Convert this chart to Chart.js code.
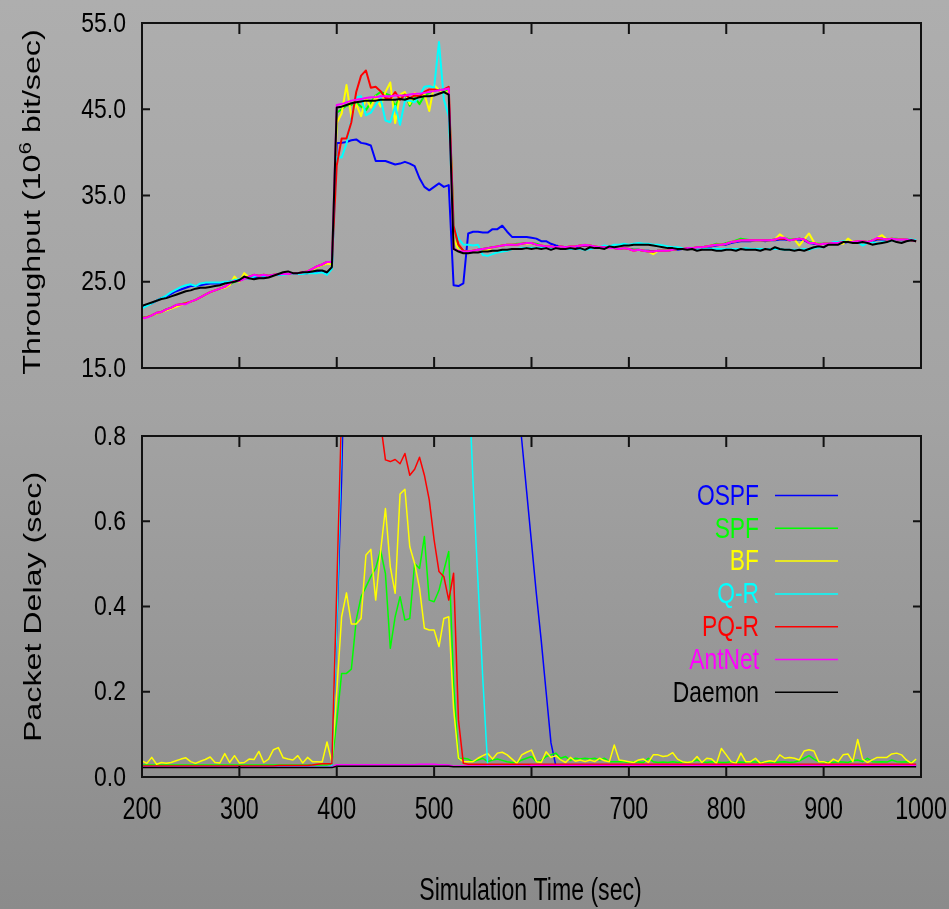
<!DOCTYPE html>
<html><head><meta charset="utf-8">
<script src="https://cdn.jsdelivr.net/npm/chart.js@4.4.1/dist/chart.umd.min.js"></script>
<style>
html,body{margin:0;padding:0;}
body{width:949px;height:909px;position:relative;overflow:hidden;background:linear-gradient(to bottom,#aeaeae 0%,#a3a3a3 45%,#8b8b8b 100%);}
canvas{position:absolute;left:0;}
#c1{top:0;} #c2{top:400px;}
</style></head><body>
<canvas id="c1" width="949" height="400"></canvas>
<canvas id="c2" width="949" height="509"></canvas>
<script>
// ---------------- data ----------------
const times = [
200,205,210,215,220,225,230,235,240,245,250,255,260,265,270,275,280,285,290,295,
300,305,310,315,320,325,330,335,340,345,350,355,360,365,370,375,380,385,390,395,
400,405,410,415,420,425,430,435,440,445,450,455,460,465,470,475,480,485,490,495,
500,505,510,515,520,525,530,535,540,545,550,555,560,565,570,575,580,585,590,595,
600,605,610,615,620,625,630,635,640,645,650,655,660,665,670,675,680,685,690,695,
700,705,710,715,720,725,730,735,740,745,750,755,760,765,770,775,780,785,790,795,
800,805,810,815,820,825,830,835,840,845,850,855,860,865,870,875,880,885,890,895,
900,905,910,915,920,925,930,935,940,945,950,955,960,965,970,975,980,985,990,995];

const seriesNames  = ['OSPF','SPF','BF','Q-R','PQ-R','AntNet','Daemon'];
const seriesColors = ['#0000ff','#00ff00','#ffff00','#00ffff','#ff0000','#ff00ff','#000000'];

const xTickValues     = [200,300,400,500,600,700,800,900,1000];
const xTickLabels     = ['200','300','400','500','600','700','800','900','1000'];
const thrTickValues   = [15,25,35,45,55];
const thrTickLabels   = ['15.0','25.0','35.0','45.0','55.0'];
const delayTickValues = [0,0.2,0.4,0.6,0.8];
const delayTickLabels = ['0.0','0.2','0.4','0.6','0.8'];

// Throughput (10^6 bit/sec)
const thrOSPF = [
22.0,22.3,22.5,22.8,23.1,23.3,23.6,23.9,24.1,24.3,24.5,24.5,24.6,24.7,24.8,24.8,24.8,24.9,25.0,25.1,
25.2,25.4,25.4,25.5,25.6,25.6,25.6,25.8,25.8,25.9,25.9,25.9,25.9,26.0,26.0,26.1,26.1,26.2,26.0,26.6,
41.1,41.1,41.2,41.4,41.5,41.1,41.0,40.8,39.0,39.0,39.0,38.8,38.6,38.7,38.9,38.7,38.4,37.0,36.0,35.6,
36.0,36.4,36.0,36.2,24.6,24.5,24.8,30.6,30.8,30.8,30.7,30.7,31.1,31.1,31.5,30.8,30.2,30.2,30.2,30.2,
30.1,30.0,29.7,29.7,29.4,29.2,29.1,29.0,29.0,29.0,29.1,29.2,29.1,29.0,29.0,28.9,28.9,28.9,28.8,28.9,
28.8,28.7,28.7,28.6,28.6,28.5,28.6,28.6,28.6,28.7,28.7,28.8,28.8,28.9,28.9,29.0,29.1,29.1,29.2,29.3,
29.3,29.5,29.6,29.7,29.7,29.7,29.8,29.8,29.7,29.8,29.8,29.9,29.9,29.8,29.9,29.9,29.8,29.5,29.4,29.3,
29.4,29.4,29.5,29.5,29.5,29.6,29.6,29.6,29.6,29.6,29.7,29.9,29.9,29.9,29.9,29.9,29.8,29.8,29.8,29.7];
const thrSPF = [
20.8,20.9,21.1,21.3,21.5,21.8,22.0,22.2,22.4,22.5,22.7,22.9,23.2,23.5,23.8,24.0,24.2,24.4,24.7,25.0,
25.1,25.4,25.5,25.7,25.7,25.8,25.7,25.8,25.9,25.9,25.9,26.0,26.0,26.1,26.2,26.4,26.7,26.9,27.2,27.2,
44.6,45.0,45.4,45.5,45.8,45.3,44.9,45.8,46.6,47.0,46.8,46.6,45.3,46.5,46.8,45.4,46.4,45.6,46.6,46.9,
47.1,47.3,47.0,47.2,31.5,29.2,28.6,28.5,28.6,28.7,28.8,28.9,29.0,29.1,29.2,29.3,29.3,29.4,29.4,29.5,
29.5,29.4,29.2,29.1,29.1,29.0,29.1,29.0,29.1,29.1,29.2,29.3,29.2,29.1,29.0,29.0,28.9,28.9,28.8,28.9,
28.8,28.7,28.7,28.6,28.5,28.5,28.6,28.6,28.6,28.7,28.8,28.8,28.9,28.9,29.0,29.0,29.1,29.2,29.4,29.3,
29.5,29.6,29.8,30.0,29.9,29.8,29.8,29.8,29.8,29.8,29.9,30.0,30.1,29.9,29.9,30.0,29.9,29.6,29.5,29.4,
29.4,29.4,29.5,29.5,29.6,29.6,29.6,29.7,29.7,29.6,29.8,30.0,30.0,29.9,30.0,30.0,29.9,29.9,29.8,29.7];
const thrBF = [
20.7,20.9,21.1,21.3,21.5,21.7,21.9,22.1,22.3,22.5,22.7,22.9,23.2,23.5,23.8,24.0,24.2,24.3,24.6,25.6,
25.0,26.0,25.5,25.7,25.7,25.8,25.7,25.8,25.9,25.9,25.9,26.0,26.0,26.1,26.2,26.4,26.7,26.9,27.1,27.0,
43.4,44.5,47.8,44.1,45.6,44.2,46.3,45.2,46.5,45.3,47.0,48.1,43.4,46.7,47.0,45.6,46.9,46.5,46.8,44.8,
47.8,47.2,46.8,47.1,30.0,28.7,28.5,28.5,28.6,28.7,28.7,28.6,29.0,29.1,29.2,29.3,29.3,29.3,29.4,29.4,
29.5,29.3,29.2,29.1,29.1,29.0,29.1,29.0,29.1,29.1,29.2,29.3,29.2,29.1,29.0,29.0,28.9,28.9,28.8,28.9,
28.8,28.6,28.7,28.6,28.5,28.2,28.6,28.6,28.6,28.7,28.8,28.8,28.9,28.9,29.0,29.0,29.1,29.2,29.3,29.3,
29.4,29.6,29.7,29.8,29.8,29.8,29.8,29.8,29.8,29.8,29.9,30.5,30.1,29.8,29.9,29.2,29.9,30.6,29.6,29.3,
29.4,29.4,29.5,29.5,29.4,30.0,29.6,29.7,29.7,29.6,29.8,30.1,30.4,29.9,30.0,29.9,29.9,29.9,29.8,29.7];
const thrQR = [
21.9,22.2,22.5,22.8,23.1,23.4,23.8,24.1,24.4,24.6,24.7,24.5,24.8,24.9,24.9,24.9,24.9,25.0,25.0,25.2,
25.3,25.4,25.4,25.6,25.7,25.7,25.7,25.8,25.8,25.8,25.9,25.9,25.9,25.9,26.0,26.0,26.0,26.1,25.8,26.5,
39.5,39.4,41.0,43.8,46.4,46.5,44.3,44.6,45.5,46.3,43.7,43.5,45.4,43.2,46.0,46.0,45.8,46.6,47.6,47.7,
47.5,52.8,46.1,44.2,31.5,30.0,29.3,29.3,29.2,29.3,28.1,28.0,28.2,28.4,28.5,28.6,28.8,28.8,28.9,28.9,
28.9,28.9,29.0,29.0,28.9,29.0,29.0,28.8,28.8,28.8,28.8,28.7,28.8,28.9,29.0,29.2,29.1,29.3,29.3,29.4,
29.3,29.4,29.5,29.4,29.4,29.3,29.3,29.2,29.1,29.0,29.0,28.9,28.8,28.8,28.8,28.8,28.8,28.8,28.8,28.8,
28.8,28.8,28.8,28.8,28.9,28.8,28.8,28.8,28.8,28.8,28.8,28.8,28.7,28.7,28.7,28.7,28.8,28.7,28.9,29.0,
29.0,29.4,29.6,29.6,29.7,29.6,29.6,29.6,29.2,29.5,29.6,29.4,29.6,29.6,29.8,29.9,29.8,29.9,29.9,29.8];
const thrPQR = [
20.8,20.9,21.1,21.4,21.5,21.8,22.0,22.3,22.4,22.5,22.7,22.9,23.2,23.5,23.8,24.0,24.2,24.4,24.8,25.1,
25.1,25.4,25.6,25.8,25.7,25.8,25.7,25.8,25.9,25.9,25.9,26.0,26.0,26.1,26.2,26.5,26.8,27.0,27.3,27.3,
38.5,41.6,41.6,43.5,47.0,48.9,49.5,47.5,47.6,47.1,46.3,46.2,47.0,46.1,46.7,46.3,46.6,46.5,47.0,47.3,
47.3,47.2,47.3,47.6,31.5,29.3,28.6,28.5,28.6,28.7,28.8,28.9,29.0,29.1,29.2,29.3,29.3,29.3,29.4,29.5,
29.5,29.3,29.2,29.1,29.1,29.0,29.1,29.0,29.1,29.1,29.2,29.2,29.2,29.1,29.0,29.0,28.9,28.9,28.8,28.9,
28.8,28.6,28.7,28.6,28.5,28.5,28.6,28.6,28.6,28.7,28.8,28.8,28.9,28.9,29.0,29.0,29.1,29.2,29.3,29.3,
29.4,29.6,29.7,29.8,29.8,29.8,29.8,29.8,29.8,29.8,29.9,30.0,30.0,29.8,29.9,30.0,29.9,29.5,29.5,29.3,
29.4,29.4,29.5,29.5,29.6,29.6,29.6,29.7,29.7,29.6,29.8,30.0,30.0,29.9,30.0,29.9,29.9,29.9,29.8,29.7];
const thrAntNet = [
20.75,20.85,21.1,21.4,21.5,21.8,22.0,22.3,22.4,22.4,22.7,22.9,23.2,23.5,23.8,24.0,24.2,24.4,24.8,25.1,
25.1,25.3,25.6,25.8,25.7,25.8,25.7,25.8,25.9,25.9,25.9,26.0,26.0,26.1,26.2,26.5,26.8,27.0,27.3,27.3,
45.5,45.6,45.8,46.0,46.1,46.2,46.3,46.4,46.4,46.5,46.5,46.5,46.6,46.6,46.6,46.7,46.8,46.8,46.9,47.0,
47.1,47.2,47.3,47.4,28.8,28.6,28.5,28.5,28.6,28.7,28.8,28.9,29.0,29.1,29.2,29.3,29.3,29.3,29.4,29.5,
29.5,29.3,29.2,29.1,29.1,29.0,29.1,29.0,29.1,29.1,29.2,29.3,29.2,29.1,29.0,29.0,28.9,28.9,28.8,28.9,
28.8,28.6,28.7,28.6,28.5,28.5,28.6,28.6,28.6,28.7,28.8,28.8,28.9,28.9,29.0,29.0,29.1,29.2,29.3,29.3,
29.4,29.6,29.7,29.8,29.8,29.8,29.8,29.8,29.8,29.8,29.9,30.1,30.1,29.8,29.9,30.0,29.9,29.5,29.5,29.3,
29.4,29.4,29.5,29.5,29.6,29.6,29.6,29.7,29.7,29.6,29.8,30.1,30.0,29.9,30.0,29.9,29.9,29.9,29.8,29.7];
const thrDaemon = [
22.2,22.4,22.6,22.8,23.0,23.1,23.3,23.5,23.7,23.9,24.0,24.2,24.3,24.3,24.4,24.5,24.6,24.8,24.9,25.0,
25.2,25.6,25.4,25.3,25.4,25.4,25.5,25.7,25.9,26.1,26.2,26.0,26.0,26.1,26.1,26.2,26.3,26.3,26.1,26.7,
45.2,45.3,45.5,45.7,45.8,45.9,46.0,46.0,46.0,46.1,46.1,46.1,46.1,46.2,46.1,46.3,46.2,46.4,46.5,46.5,
46.6,46.8,47.0,46.7,28.8,28.5,28.3,28.3,28.4,28.4,28.5,28.5,28.6,28.6,28.7,28.7,28.8,28.8,28.8,28.9,
28.8,28.9,28.8,28.9,28.7,28.9,28.8,28.8,28.9,28.8,28.9,28.7,29.0,28.9,28.9,28.8,29.1,29.0,29.1,29.2,
29.2,29.3,29.3,29.3,29.3,29.2,29.1,29.0,28.9,28.9,28.8,28.8,28.7,28.8,28.6,28.7,28.7,28.7,28.6,28.6,
28.7,28.7,28.6,28.8,28.7,28.7,28.7,28.6,28.8,28.7,29.0,28.8,28.7,28.7,28.6,28.7,28.6,28.8,29.0,29.1,
29.0,29.3,29.3,29.3,29.6,29.6,29.5,29.5,29.6,29.5,29.3,29.4,29.5,29.6,29.8,29.6,29.5,29.7,29.8,29.7];

// Packet Delay (sec)
const delOSPF = [
0.023,0.023,0.023,0.023,0.023,0.023,0.023,0.023,0.023,0.023,0.023,0.023,0.023,0.023,0.023,0.023,0.023,0.023,0.023,0.023,
0.023,0.023,0.023,0.023,0.023,0.023,0.023,0.023,0.023,0.023,0.023,0.023,0.023,0.023,0.023,0.023,0.023,0.023,0.023,0.025,
0.35,0.70,1.20,1.45,1.60,1.72,1.82,1.90,1.97,2.03,2.08,2.13,2.17,2.21,2.25,2.28,2.31,2.34,2.36,2.38,
2.40,2.42,2.44,2.45,2.46,2.33,2.22,2.10,1.97,1.86,1.73,1.62,1.50,1.37,1.26,1.14,1.02,0.91,0.79,0.67,
0.55,0.43,0.32,0.20,0.08,0.026,0.025,0.025,0.025,0.025,0.025,0.025,0.025,0.025,0.025,0.025,0.025,0.025,0.025,0.025,
0.025,0.025,0.025,0.025,0.025,0.025,0.025,0.025,0.025,0.025,0.025,0.025,0.025,0.025,0.025,0.025,0.025,0.025,0.025,0.025,
0.025,0.025,0.025,0.025,0.025,0.025,0.025,0.025,0.025,0.025,0.025,0.025,0.025,0.025,0.025,0.025,0.025,0.025,0.025,0.025,
0.025,0.025,0.025,0.025,0.025,0.025,0.025,0.025,0.025,0.025,0.025,0.025,0.025,0.025,0.025,0.025,0.025,0.025,0.025,0.025];
const delSPF = [
0.028,0.028,0.028,0.028,0.028,0.028,0.028,0.028,0.028,0.028,0.028,0.028,0.028,0.028,0.028,0.028,0.028,0.028,0.028,0.028,
0.028,0.028,0.028,0.028,0.028,0.028,0.028,0.028,0.028,0.028,0.028,0.028,0.028,0.028,0.028,0.028,0.028,0.028,0.028,0.030,
0.13,0.243,0.243,0.253,0.368,0.423,0.446,0.470,0.490,0.532,0.477,0.302,0.376,0.423,0.368,0.372,0.501,0.489,0.564,0.415,
0.411,0.438,0.485,0.529,0.22,0.043,0.044,0.042,0.036,0.040,0.044,0.036,0.040,0.042,0.039,0.036,0.034,0.034,0.040,0.044,
0.048,0.036,0.039,0.048,0.052,0.056,0.044,0.048,0.039,0.044,0.042,0.044,0.042,0.044,0.040,0.044,0.036,0.036,0.036,0.036,
0.034,0.036,0.035,0.034,0.044,0.036,0.034,0.035,0.034,0.036,0.034,0.035,0.034,0.036,0.040,0.036,0.034,0.036,0.035,0.034,
0.034,0.036,0.034,0.035,0.034,0.036,0.035,0.034,0.035,0.036,0.034,0.035,0.036,0.034,0.035,0.038,0.044,0.050,0.042,0.036,
0.034,0.035,0.034,0.036,0.035,0.034,0.038,0.040,0.036,0.044,0.036,0.035,0.036,0.035,0.040,0.036,0.035,0.036,0.034,0.040];
const delBF = [
0.038,0.032,0.046,0.030,0.034,0.032,0.034,0.038,0.042,0.045,0.036,0.032,0.037,0.041,0.047,0.034,0.033,0.055,0.034,0.050,
0.033,0.034,0.042,0.041,0.060,0.034,0.042,0.064,0.069,0.045,0.042,0.040,0.050,0.033,0.046,0.036,0.036,0.035,0.082,0.034,
0.20,0.376,0.432,0.359,0.359,0.372,0.521,0.534,0.415,0.529,0.630,0.493,0.431,0.664,0.675,0.540,0.501,0.443,0.349,0.345,
0.345,0.306,0.372,0.376,0.16,0.044,0.036,0.036,0.036,0.044,0.050,0.055,0.042,0.056,0.058,0.052,0.042,0.032,0.052,0.058,
0.063,0.036,0.034,0.059,0.046,0.050,0.040,0.034,0.046,0.037,0.040,0.036,0.040,0.036,0.044,0.038,0.036,0.075,0.040,0.038,
0.036,0.034,0.040,0.042,0.034,0.052,0.052,0.048,0.050,0.057,0.042,0.036,0.034,0.036,0.048,0.034,0.044,0.042,0.032,0.067,
0.052,0.036,0.032,0.056,0.036,0.036,0.044,0.032,0.036,0.038,0.036,0.052,0.044,0.046,0.044,0.040,0.061,0.064,0.061,0.036,
0.036,0.032,0.042,0.036,0.052,0.054,0.036,0.088,0.042,0.034,0.040,0.046,0.046,0.046,0.054,0.056,0.052,0.040,0.032,0.042];
const delQR = [
0.024,0.024,0.024,0.024,0.024,0.024,0.024,0.024,0.024,0.024,0.024,0.024,0.024,0.024,0.024,0.024,0.024,0.024,0.024,0.024,
0.024,0.024,0.024,0.024,0.024,0.024,0.024,0.024,0.024,0.024,0.024,0.024,0.024,0.024,0.024,0.024,0.024,0.024,0.024,0.026,
0.36,0.82,1.15,1.30,1.40,1.47,1.52,1.56,1.58,1.60,1.62,1.63,1.64,1.65,1.66,1.67,1.68,1.69,1.70,1.70,
1.71,1.71,1.72,1.70,1.66,1.43,1.19,0.96,0.69,0.46,0.23,0.026,0.025,0.025,0.025,0.025,0.025,0.025,0.025,0.025,
0.025,0.025,0.025,0.025,0.025,0.025,0.025,0.025,0.025,0.025,0.025,0.025,0.025,0.025,0.025,0.025,0.025,0.025,0.025,0.025,
0.025,0.025,0.025,0.025,0.025,0.025,0.025,0.025,0.025,0.025,0.025,0.025,0.025,0.025,0.025,0.025,0.025,0.025,0.025,0.025,
0.025,0.025,0.025,0.025,0.025,0.025,0.025,0.025,0.025,0.025,0.025,0.025,0.025,0.025,0.025,0.025,0.025,0.025,0.025,0.025,
0.025,0.025,0.025,0.025,0.025,0.025,0.025,0.025,0.025,0.025,0.025,0.025,0.025,0.025,0.025,0.025,0.025,0.025,0.025,0.025];
const delPQR = [
0.026,0.026,0.026,0.026,0.026,0.026,0.026,0.026,0.026,0.026,0.026,0.026,0.026,0.026,0.026,0.026,0.026,0.026,0.026,0.026,
0.026,0.026,0.026,0.026,0.026,0.026,0.026,0.026,0.027,0.027,0.027,0.027,0.027,0.027,0.027,0.028,0.030,0.031,0.031,0.031,
0.44,0.86,1.20,1.30,1.32,1.28,1.22,1.12,1.00,0.83,0.744,0.740,0.745,0.735,0.759,0.708,0.722,0.750,0.708,0.650,
0.556,0.482,0.470,0.415,0.478,0.134,0.032,0.030,0.030,0.030,0.030,0.030,0.030,0.030,0.030,0.030,0.030,0.030,0.030,0.030,
0.030,0.030,0.030,0.030,0.030,0.030,0.030,0.030,0.030,0.030,0.030,0.030,0.030,0.030,0.030,0.030,0.030,0.030,0.030,0.030,
0.030,0.030,0.030,0.030,0.030,0.030,0.030,0.030,0.030,0.030,0.030,0.030,0.030,0.030,0.030,0.030,0.030,0.030,0.030,0.030,
0.030,0.030,0.030,0.030,0.030,0.030,0.030,0.030,0.030,0.030,0.030,0.030,0.030,0.030,0.030,0.030,0.030,0.030,0.030,0.030,
0.030,0.030,0.030,0.030,0.030,0.030,0.030,0.030,0.030,0.030,0.030,0.030,0.030,0.030,0.030,0.030,0.030,0.030,0.030,0.030];
const delAntNet = [
0.023,0.023,0.023,0.023,0.023,0.023,0.023,0.023,0.023,0.023,0.023,0.023,0.023,0.023,0.023,0.023,0.023,0.023,0.023,0.023,
0.023,0.023,0.023,0.023,0.023,0.023,0.023,0.023,0.023,0.023,0.023,0.023,0.023,0.023,0.023,0.023,0.023,0.023,0.023,0.023,
0.029,0.029,0.029,0.029,0.029,0.029,0.029,0.029,0.029,0.029,0.029,0.029,0.029,0.029,0.029,0.029,0.029,0.030,0.030,0.030,
0.030,0.029,0.029,0.028,0.025,0.026,0.026,0.026,0.026,0.026,0.026,0.026,0.026,0.026,0.026,0.026,0.026,0.026,0.026,0.026,
0.027,0.027,0.027,0.027,0.027,0.027,0.027,0.027,0.027,0.027,0.027,0.027,0.027,0.027,0.027,0.027,0.027,0.027,0.027,0.027,
0.027,0.027,0.027,0.027,0.027,0.027,0.027,0.027,0.027,0.027,0.027,0.027,0.027,0.027,0.027,0.027,0.027,0.027,0.027,0.027,
0.027,0.027,0.027,0.027,0.027,0.027,0.027,0.027,0.027,0.027,0.027,0.027,0.027,0.027,0.027,0.027,0.027,0.027,0.027,0.027,
0.027,0.027,0.027,0.027,0.027,0.027,0.027,0.027,0.027,0.027,0.027,0.027,0.027,0.027,0.027,0.027,0.027,0.027,0.027,0.027];
const delDaemon = [
0.022,0.022,0.022,0.022,0.022,0.022,0.022,0.022,0.022,0.022,0.022,0.022,0.022,0.022,0.022,0.022,0.022,0.022,0.022,0.022,
0.022,0.022,0.022,0.022,0.022,0.022,0.022,0.022,0.022,0.022,0.022,0.022,0.022,0.022,0.022,0.022,0.022,0.022,0.022,0.022,
0.025,0.025,0.025,0.025,0.025,0.025,0.025,0.025,0.025,0.025,0.025,0.025,0.025,0.025,0.025,0.025,0.025,0.025,0.025,0.025,
0.025,0.025,0.025,0.025,0.024,0.024,0.024,0.024,0.024,0.024,0.024,0.024,0.024,0.024,0.024,0.024,0.024,0.024,0.024,0.024,
0.024,0.024,0.024,0.024,0.024,0.024,0.024,0.024,0.024,0.024,0.024,0.024,0.024,0.024,0.024,0.024,0.024,0.024,0.024,0.024,
0.024,0.024,0.024,0.024,0.024,0.024,0.024,0.024,0.024,0.024,0.024,0.024,0.024,0.024,0.024,0.024,0.024,0.024,0.024,0.024,
0.024,0.024,0.024,0.024,0.024,0.024,0.024,0.024,0.024,0.024,0.024,0.024,0.024,0.024,0.024,0.024,0.024,0.024,0.024,0.024,
0.024,0.024,0.024,0.024,0.024,0.024,0.024,0.024,0.024,0.024,0.024,0.024,0.024,0.024,0.024,0.024,0.024,0.024,0.024,0.024];

const thrSeries   = [thrOSPF, thrSPF, thrBF, thrQR, thrPQR, thrAntNet, thrDaemon];
const delaySeries = [delOSPF, delSPF, delBF, delQR, delPQR, delAntNet, delDaemon];

// ---------------- drawing ----------------
const SANS = '"Liberation Sans", Arial, Helvetica, sans-serif';

// condensed text helper (the original uses a narrow Helvetica)
function drawNarrow(ctx, text, px, py, size, sx, align, color) {
  ctx.save();
  ctx.translate(px, py);
  ctx.scale(sx, 1);
  ctx.font = size + 'px ' + SANS;
  ctx.textAlign = align;
  ctx.textBaseline = 'middle';
  ctx.fillStyle = color;
  ctx.fillText(text, 0, 0);
  ctx.restore();
}

const frameTicks = {
  id: 'frameTicks',
  afterDatasetsDraw(chart, args, o) {
    const {ctx, chartArea: a, scales: {x, y}} = chart;
    ctx.save();
    ctx.strokeStyle = '#111';
    ctx.lineWidth = 2;
    ctx.beginPath();
    x.ticks.forEach(t => {
      const px = x.getPixelForValue(t.value);
      ctx.moveTo(px, a.bottom); ctx.lineTo(px, a.bottom - o.xLen);
      ctx.moveTo(px, a.top); ctx.lineTo(px, a.top + o.xLen);
    });
    y.ticks.forEach(t => {
      const py = y.getPixelForValue(t.value);
      ctx.moveTo(a.left, py); ctx.lineTo(a.left + o.yLen, py);
      ctx.moveTo(a.right, py); ctx.lineTo(a.right - o.yLen, py);
    });
    ctx.stroke();
    ctx.strokeRect(a.left, a.top, a.right - a.left, a.bottom - a.top);
    ctx.restore();
  }
};

const axisText = {
  id: 'axisText',
  afterDraw(chart, args, o) {
    const {ctx, chartArea: a, scales: {x, y}} = chart;
    o.yLabels.forEach((lab, i) =>
      drawNarrow(ctx, lab, o.yLabelRight, y.getPixelForValue(o.yValues[i]) + 1, 28, 0.82, 'right', '#000'));
    if (o.xLabels) o.xLabels.forEach((lab, i) =>
      drawNarrow(ctx, lab, x.getPixelForValue(o.xValues[i]), o.xLabelY, 31, 0.75, 'center', '#000'));
    if (o.xTitle) drawNarrow(ctx, o.xTitle, (a.left + a.right) / 2 - 1, o.xTitleY, 31, 0.745, 'center', '#000');
  }
};

const yTitle = {
  id: 'yTitle',
  afterDraw(chart, args, o) {
    const ctx = chart.ctx;
    ctx.save();
    ctx.translate(o.x, o.y);
    ctx.rotate(-Math.PI / 2);
    ctx.scale(o.stretch, 1);
    ctx.fillStyle = '#000';
    ctx.textBaseline = 'alphabetic';
    ctx.textAlign = 'left';
    const main = o.size + 'px ' + SANS;
    const small = o.supSize + 'px ' + SANS;
    ctx.font = main;
    const w1 = ctx.measureText(o.before).width;
    const w3 = o.after ? ctx.measureText(o.after).width : 0;
    ctx.font = small;
    const w2 = o.sup ? ctx.measureText(o.sup).width : 0;
    const sx = -(w1 + w2 + w3) / 2;
    ctx.font = main;
    ctx.fillText(o.before, sx, 0);
    if (o.sup) { ctx.font = small; ctx.fillText(o.sup, sx + w1, -o.supRise); }
    if (o.after) { ctx.font = main; ctx.fillText(o.after, sx + w1 + w2, 0); }
    ctx.restore();
  }
};

const sideLegend = {
  id: 'sideLegend',
  afterDraw(chart, args, o) {
    if (!o.show) return;
    const ctx = chart.ctx;
    chart.data.datasets.forEach((ds, i) => {
      const y = o.top + i * o.step;
      drawNarrow(ctx, ds.label, o.textRight, y + 1, o.size, o.sx, 'right', ds.borderColor);
      ctx.save();
      ctx.strokeStyle = ds.borderColor;
      ctx.lineWidth = 1.5;
      ctx.beginPath(); ctx.moveTo(o.x0, y); ctx.lineTo(o.x1, y); ctx.stroke();
      ctx.restore();
    });
  }
};

function makeDatasets(series, width) {
  return seriesNames.map((name, i) => ({
    label: name,
    data: times.map((t, k) => ({x: t, y: series[i][k]})),
    borderColor: seriesColors[i],
    backgroundColor: seriesColors[i],
    borderWidth: width,
    pointRadius: 0,
    tension: 0,
    fill: false,
    borderJoinStyle: 'round',
    order: seriesNames.length - 1 - i
  }));
}

function scaleX(fitHeight) {
  return {type: 'linear', min: 200, max: 1000,
    afterBuildTicks: s => { s.ticks = xTickValues.map(v => ({value: v})); },
    grid: {display: false, drawTicks: false}, border: {display: false},
    ticks: {display: false},
    afterFit: s => { s.height = fitHeight; }};
}
function scaleY(min, max, values) {
  return {type: 'linear', min: min, max: max,
    afterBuildTicks: s => { s.ticks = values.map(v => ({value: v})); },
    grid: {display: false, drawTicks: false}, border: {display: false},
    ticks: {display: false},
    afterFit: s => { s.width = 142; }};
}

new Chart(document.getElementById('c1'), {
  type: 'line',
  data: {datasets: makeDatasets(thrSeries, 2)},
  options: {
    responsive: false, animation: false, devicePixelRatio: 1,
    layout: {padding: {left: 0, right: 28, top: 23, bottom: 0}},
    plugins: {
      legend: {display: false}, tooltip: {enabled: false},
      frameTicks: {xLen: 11, yLen: 8},
      axisText: {yLabels: thrTickLabels, yValues: thrTickValues, yLabelRight: 126},
      yTitle: {x: 40, y: 202, size: 23, supSize: 16, supRise: 9, stretch: 1.4,
               before: 'Throughput (10', sup: '6', after: ' bit/sec)'},
      sideLegend: {show: false}
    },
    scales: {x: scaleX(32), y: scaleY(15, 55, thrTickValues)}
  },
  plugins: [frameTicks, axisText, yTitle, sideLegend]
});

new Chart(document.getElementById('c2'), {
  type: 'line',
  data: {datasets: makeDatasets(delaySeries, 1.5)},
  options: {
    responsive: false, animation: false, devicePixelRatio: 1,
    layout: {padding: {left: 0, right: 28, top: 36, bottom: 0}},
    plugins: {
      legend: {display: false}, tooltip: {enabled: false},
      frameTicks: {xLen: 11, yLen: 8},
      axisText: {yLabels: delayTickLabels, yValues: delayTickValues, yLabelRight: 126,
                 xLabels: xTickLabels, xValues: xTickValues, xLabelY: 410.5,
                 xTitle: 'Simulation Time (sec)', xTitleY: 491},
      yTitle: {x: 41, y: 207, size: 23, supSize: 16, supRise: 9, stretch: 1.4,
               before: 'Packet Delay (sec)', sup: '', after: ''},
      sideLegend: {show: true, size: 30, sx: 0.76, top: 95.5, step: 32.8, textRight: 759, x0: 775, x1: 838}
    },
    scales: {x: scaleX(132), y: scaleY(0, 0.8, delayTickValues)}
  },
  plugins: [frameTicks, axisText, yTitle, sideLegend]
});
</script>
</body></html>
